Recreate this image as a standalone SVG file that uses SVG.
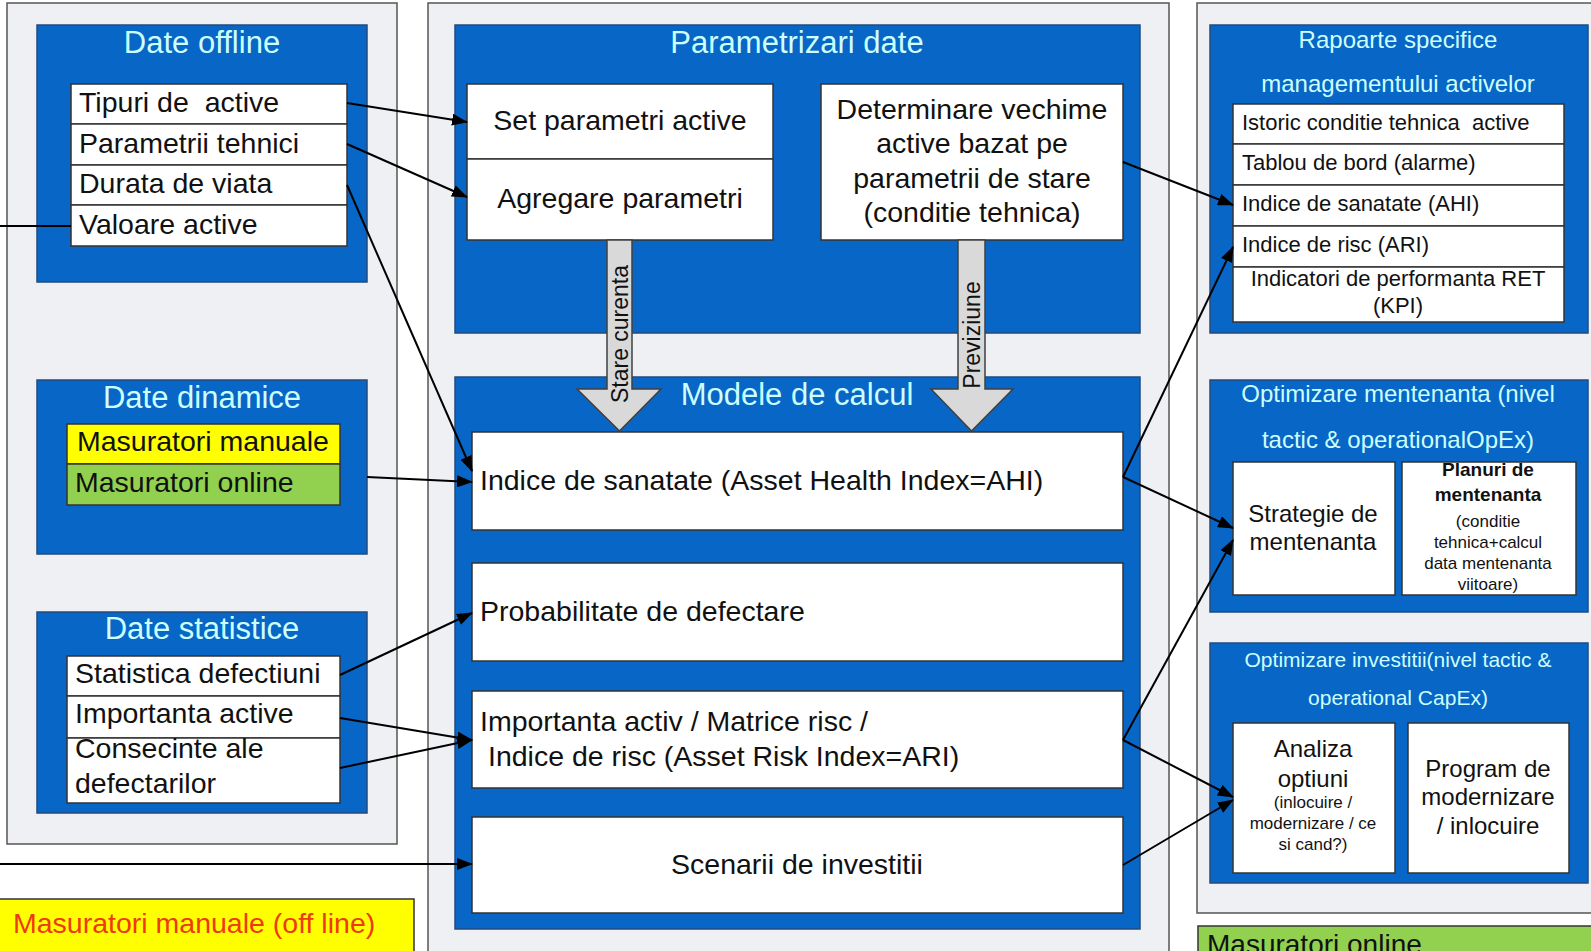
<svg xmlns="http://www.w3.org/2000/svg" width="1591" height="951" viewBox="0 0 1591 951">
<defs>
<style>
text{font-family:"Liberation Sans",Arial,sans-serif;white-space:pre;}
.panel{fill:#eef0f4;stroke:#555;stroke-width:1.5;}
.blue{fill:#0866c6;stroke:#244a7c;stroke-width:1.5;}
.box{fill:#fff;stroke:#333;stroke-width:1.5;}
.title{fill:#ccffff;font-size:31px;text-anchor:middle;}
.rtitle{fill:#ccffff;font-size:24px;text-anchor:middle;}
.t28{fill:#111;font-size:28.5px;}
.t22{fill:#111;font-size:22px;}
.c{text-anchor:middle;}
.conn{stroke:#000;stroke-width:2;fill:none;}
.garrow{fill:#d9d9d9;stroke:#404040;stroke-width:1.5;}
</style>
<marker id="ah" markerUnits="userSpaceOnUse" markerWidth="16" markerHeight="12" refX="15" refY="6" orient="auto">
<path d="M0,0 L16,6 L0,12 z" fill="#000"/>
</marker>
</defs>
<rect x="0" y="0" width="1591" height="951" fill="#fff"/>

<!-- panels -->
<rect class="panel" x="7" y="3" width="390" height="841"/>
<rect class="panel" x="428" y="3" width="741" height="960"/>
<rect class="panel" x="1197" y="3" width="410" height="910"/>

<!-- Date offline -->
<g id="date-offline">
<rect class="blue" x="37" y="25" width="330" height="257"/>
<text class="title" x="202" y="53">Date offline</text>
<rect class="box" x="71" y="84" width="276" height="40"/>
<rect class="box" x="71" y="124" width="276" height="41"/>
<rect class="box" x="71" y="165" width="276" height="40"/>
<rect class="box" x="71" y="205" width="276" height="41"/>
<text class="t28" x="79" y="112" xml:space="preserve">Tipuri de  active</text>
<text class="t28" x="79" y="153">Parametrii tehnici</text>
<text class="t28" x="79" y="193">Durata de viata</text>
<text class="t28" x="79" y="234">Valoare active</text>
</g>

<!-- Date dinamice -->
<g id="date-dinamice">
<rect class="blue" x="37" y="380" width="330" height="174"/>
<text class="title" x="202" y="408">Date dinamice</text>
<rect x="67" y="424" width="273" height="40" fill="#ffff00" stroke="#333" stroke-width="1.5"/>
<rect x="67" y="464" width="273" height="41" fill="#92d050" stroke="#333" stroke-width="1.5"/>
<text class="t28" x="77" y="451">Masuratori manuale</text>
<text class="t28" x="75" y="492">Masuratori online</text>
</g>

<!-- Date statistice -->
<g id="date-statistice">
<rect class="blue" x="37" y="612" width="330" height="201"/>
<text class="title" x="202" y="639">Date statistice</text>
<rect class="box" x="67" y="656" width="273" height="40"/>
<rect class="box" x="67" y="696" width="273" height="42"/>
<rect class="box" x="67" y="738" width="273" height="65"/>
<text class="t28" x="75" y="683">Statistica defectiuni</text>
<text class="t28" x="75" y="723">Importanta active</text>
<text class="t28" x="75" y="758">Consecinte ale</text>
<text class="t28" x="75" y="793">defectarilor</text>
</g>

<!-- Parametrizari date -->
<g id="parametrizari-date">
<rect class="blue" x="455" y="25" width="685" height="308"/>
<text class="title" x="797" y="53">Parametrizari date</text>
<rect class="box" x="467" y="84" width="306" height="75"/>
<rect class="box" x="467" y="159" width="306" height="81"/>
<text class="t28 c" x="620" y="130">Set parametri active</text>
<text class="t28 c" x="620" y="208">Agregare parametri</text>
<rect class="box" x="821" y="84" width="302" height="156"/>
<text class="t28 c" x="972" y="119">Determinare vechime</text>
<text class="t28 c" x="972" y="153">active bazat pe</text>
<text class="t28 c" x="972" y="188">parametrii de stare</text>
<text class="t28 c" x="972" y="222">(conditie tehnica)</text>
</g>

<!-- Modele de calcul -->
<g id="modele-de-calcul">
<rect class="blue" x="455" y="377" width="685" height="552"/>
<text class="title" x="797" y="405">Modele de calcul</text>
<rect class="box" x="472" y="432" width="651" height="98"/>
<text class="t28" x="480" y="490">Indice de sanatate (Asset Health Index=AHI)</text>
<rect class="box" x="472" y="563" width="651" height="98"/>
<text class="t28" x="480" y="621">Probabilitate de defectare</text>
<rect class="box" x="472" y="691" width="651" height="97"/>
<text class="t28" x="480" y="731">Importanta activ / Matrice risc /</text>
<text class="t28" x="488" y="766">Indice de risc (Asset Risk Index=ARI)</text>
<rect class="box" x="472" y="817" width="651" height="96"/>
<text class="t28 c" x="797" y="874">Scenarii de investitii</text>
</g>

<!-- big arrows -->
<g id="stare-curenta">
<path class="garrow" d="M607,240 L632,240 L632,389 L661,389 L619.5,431 L577,389 L607,389 Z"/>
<text transform="translate(628,334) rotate(-90)" font-size="23" text-anchor="middle" fill="#111">Stare curenta</text>
</g>
<g id="previziune">
<path class="garrow" d="M958,240 L985,240 L985,389 L1013,389 L971.5,431 L931,389 L958,389 Z"/>
<text transform="translate(980,335) rotate(-90)" font-size="23" text-anchor="middle" fill="#111">Previziune</text>
</g>

<!-- Rapoarte -->
<g id="rapoarte">
<rect class="blue" x="1210" y="25" width="378" height="308"/>
<text class="rtitle" x="1398" y="48">Rapoarte specifice</text>
<text class="rtitle" x="1398" y="92">managementului activelor</text>
<rect class="box" x="1233" y="104" width="331" height="40"/>
<rect class="box" x="1233" y="144" width="331" height="41"/>
<rect class="box" x="1233" y="185" width="331" height="41"/>
<rect class="box" x="1233" y="226" width="331" height="41"/>
<rect class="box" x="1233" y="267" width="331" height="55"/>
<text class="t22" x="1242" y="130" xml:space="preserve">Istoric conditie tehnica  active</text>
<text class="t22" x="1242" y="170">Tablou de bord (alarme)</text>
<text class="t22" x="1242" y="211">Indice de sanatate (AHI)</text>
<text class="t22" x="1242" y="252">Indice de risc (ARI)</text>
<text class="t22 c" x="1398" y="286">Indicatori de performanta RET</text>
<text class="t22 c" x="1398" y="313">(KPI)</text>
</g>

<!-- Optimizare mentenanta -->
<g id="optimizare-mentenanta">
<rect class="blue" x="1210" y="380" width="378" height="232"/>
<text class="rtitle" x="1398" y="402">Optimizare mentenanta (nivel</text>
<text class="rtitle" x="1398" y="448">tactic &amp; operationalOpEx)</text>
<rect class="box" x="1233" y="462" width="162" height="133"/>
<text class="c" x="1313" y="522" font-size="24" fill="#111">Strategie de</text>
<text class="c" x="1313" y="550" font-size="24" fill="#111">mentenanta</text>
<rect class="box" x="1402" y="462" width="174" height="133"/>
<text class="c" x="1488" y="476" font-size="19" font-weight="bold" fill="#111">Planuri de</text>
<text class="c" x="1488" y="501" font-size="19" font-weight="bold" fill="#111">mentenanta</text>
<text class="c" x="1488" y="527" font-size="17" fill="#111">(conditie</text>
<text class="c" x="1488" y="548" font-size="17" fill="#111">tehnica+calcul</text>
<text class="c" x="1488" y="569" font-size="17" fill="#111">data mentenanta</text>
<text class="c" x="1488" y="590" font-size="17" fill="#111">viitoare)</text>
</g>

<!-- Optimizare investitii -->
<g id="optimizare-investitii">
<rect class="blue" x="1210" y="643" width="378" height="240"/>
<text class="c" x="1398" y="667" font-size="21" fill="#ccffff">Optimizare investitii(nivel tactic &amp;</text>
<text class="c" x="1398" y="705" font-size="21" fill="#ccffff">operational CapEx)</text>
<rect class="box" x="1233" y="723" width="162" height="150"/>
<text class="c" x="1313" y="757" font-size="24" fill="#111">Analiza</text>
<text class="c" x="1313" y="787" font-size="24" fill="#111">optiuni</text>
<text class="c" x="1313" y="808" font-size="17" fill="#111">(inlocuire /</text>
<text class="c" x="1313" y="829" font-size="17" fill="#111">modernizare / ce</text>
<text class="c" x="1313" y="850" font-size="17" fill="#111">si cand?)</text>
<rect class="box" x="1408" y="723" width="161" height="150"/>
<text class="c" x="1488" y="777" font-size="24" fill="#111">Program de</text>
<text class="c" x="1488" y="805" font-size="24" fill="#111">modernizare</text>
<text class="c" x="1488" y="834" font-size="24" fill="#111">/ inlocuire</text>
</g>

<!-- legend boxes -->
<g id="legend-offline">
<rect x="-2" y="899" width="416" height="70" fill="#ffff00" stroke="#333" stroke-width="1.5"/>
<text x="13" y="933" font-size="28.5" fill="#ee3a12">Masuratori manuale (off line)</text>
</g>
<g id="legend-online">
<rect x="1198" y="926" width="410" height="40" fill="#92d050" stroke="#333" stroke-width="1.5"/>
<text x="1207" y="954" font-size="28" fill="#111">Masuratori online</text>
</g>

<!-- connectors -->
<g id="connectors">
<line class="conn" x1="347" y1="103" x2="467" y2="122" marker-end="url(#ah)"/>
<line class="conn" x1="347" y1="144" x2="467" y2="197" marker-end="url(#ah)"/>
<line class="conn" x1="347" y1="185" x2="472" y2="471" marker-end="url(#ah)"/>
<line class="conn" x1="367" y1="477" x2="472" y2="482" marker-end="url(#ah)"/>
<line class="conn" x1="340" y1="675" x2="472" y2="613" marker-end="url(#ah)"/>
<line class="conn" x1="340" y1="718" x2="472" y2="740" marker-end="url(#ah)"/>
<line class="conn" x1="340" y1="768" x2="472" y2="740" marker-end="url(#ah)"/>
<line class="conn" x1="0" y1="226" x2="71" y2="226"/>
<line class="conn" x1="0" y1="864" x2="472" y2="864" marker-end="url(#ah)"/>
<line class="conn" x1="1123" y1="162" x2="1233" y2="205" marker-end="url(#ah)"/>
<line class="conn" x1="1123" y1="477" x2="1233" y2="247" marker-end="url(#ah)"/>
<line class="conn" x1="1123" y1="477" x2="1233" y2="528" marker-end="url(#ah)"/>
<line class="conn" x1="1123" y1="740" x2="1233" y2="540" marker-end="url(#ah)"/>
<line class="conn" x1="1123" y1="740" x2="1233" y2="797" marker-end="url(#ah)"/>
<line class="conn" x1="1123" y1="865" x2="1233" y2="800" marker-end="url(#ah)"/>
</g>
</svg>
